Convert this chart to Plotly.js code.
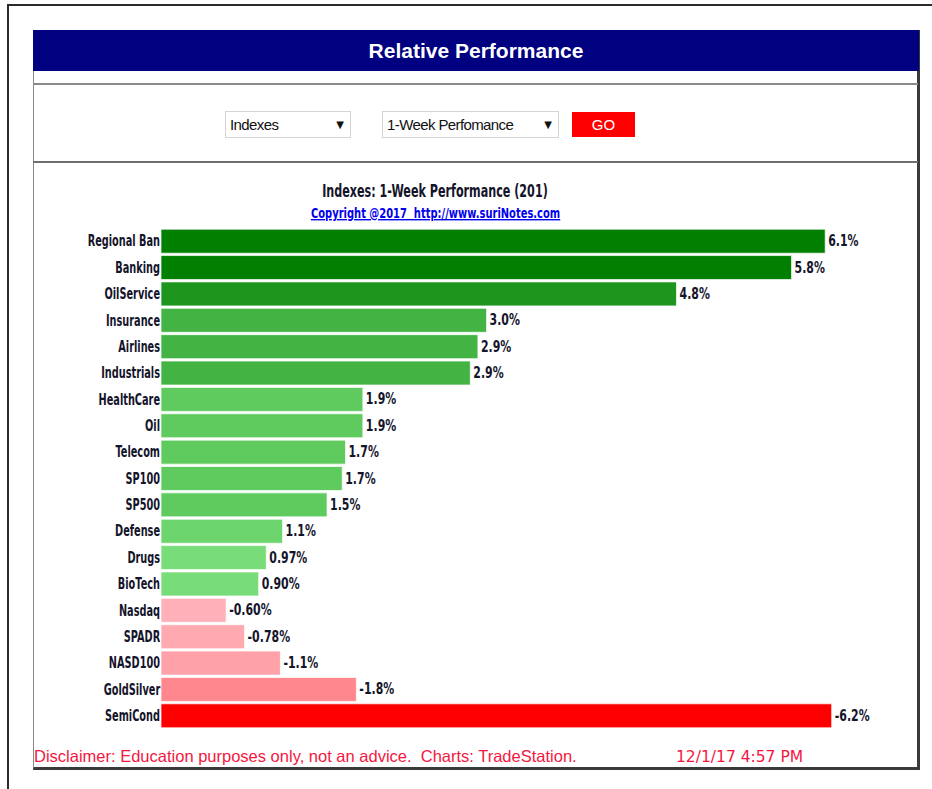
<!DOCTYPE html>
<html>
<head>
<meta charset="utf-8">
<script src="https://cdn.plot.ly/plotly-3.0.1.min.js"></script>
<style>
  html, body { margin: 0; padding: 0; background: #ffffff; width: 932px; height: 789px; overflow: hidden; }
  .abs { position: absolute; box-sizing: border-box; }
  #frameTop { left: 7px; top: 4px; width: 925px; height: 2px; background: #2b2b2b; }
  #frameLeft { left: 7px; top: 4px; width: 2px; height: 785px; background: #2b2b2b; }
  #box { left: 33px; top: 30px; width: 887px; height: 740px; border-left: 1px solid #888; border-right: 3px solid #3a3a3a; border-bottom: 3px solid #3a3a3a; }
  #header { left: 33px; top: 30px; width: 886px; height: 41px; background: #000080; color: #fff;
            font-family: "Liberation Sans", Arial, sans-serif; font-weight: bold; font-size: 21px;
            text-align: center; line-height: 41px; }
  #sep1 { left: 33px; top: 83px; width: 885px; height: 2px; background: #8a8a8a; }
  #sep2 { left: 33px; top: 161px; width: 885px; height: 2px; background: #6e6e6e; }
  .dd { border: 1px solid #d4d4d4; height: 27px; background: #fff; font-family: "Liberation Sans", Arial, sans-serif;
        font-size: 15px; color: #111; line-height: 26px; padding-left: 4px; letter-spacing: -0.6px; }
  .dd .arr { position: absolute; right: 6px; top: 0; font-size: 10px; font-family: "DejaVu Sans", sans-serif; letter-spacing: 0; }
  #dd1 { left: 225px; top: 111px; width: 126px; }
  #dd2 { left: 382px; top: 111px; width: 177px; }
  #go { left: 572px; top: 112px; width: 63px; height: 25px; background: #ff0000; color: #fff; text-align: center;
        font-family: "Liberation Sans", Arial, sans-serif; font-size: 15px; line-height: 25px; }
  #chart { left: 33px; top: 164px; width: 885px; height: 590px; }
  #disc { left: 34px; top: 747px; color: #f5163f; font-family: "Liberation Sans", Arial, sans-serif; font-size: 16.5px; white-space: pre; }
  #date { left: 676px; top: 748px; color: #f5163f; font-family: "DejaVu Sans", Verdana, sans-serif; font-size: 15.5px; white-space: pre; }
</style>
</head>
<body>
<div class="abs" id="frameTop"></div>
<div class="abs" id="frameLeft"></div>
<div class="abs" id="box"></div>
<div class="abs" id="header">Relative Performance</div>
<div class="abs" id="sep1"></div>
<div class="abs" id="sep2"></div>
<div class="abs dd" id="dd1">Indexes<span class="arr">▼</span></div>
<div class="abs dd" id="dd2">1-Week Perfomance<span class="arr">▼</span></div>
<div class="abs" id="go">GO</div>
<div class="abs" id="chart"></div>
<div class="abs" id="disc">Disclaimer: Education purposes only, not an advice.  Charts: TradeStation.</div>
<div class="abs" id="date">12/1/17 4:57 PM</div>
<script>
// ---- data ----
var categories = ["Regional Ban", "Banking", "OilService", "Insurance", "Airlines", "Industrials",
  "HealthCare", "Oil", "Telecom", "SP100", "SP500", "Defense", "Drugs", "BioTech",
  "Nasdaq", "SPADR", "NASD100", "GoldSilver", "SemiCond"];
var performance = [6.12, 5.81, 4.75, 3.00, 2.92, 2.85, 1.86, 1.86, 1.70, 1.67, 1.53, 1.12, 0.97, 0.90,
  -0.60, -0.77, -1.10, -1.80, -6.18];
var valueLabels = ["6.1%", "5.8%", "4.8%", "3.0%", "2.9%", "2.9%", "1.9%", "1.9%", "1.7%", "1.7%", "1.5%",
  "1.1%", "0.97%", "0.90%", "-0.60%", "-0.78%", "-1.1%", "-1.8%", "-6.2%"];
var barColors = ["#007f00", "#007f00", "#1e961e", "#43b443", "#43b443", "#43b443",
  "#5fcb5f", "#5fcb5f", "#5fcb5f", "#5fcb5f", "#5fcb5f", "#6dd56d", "#78dc78", "#78dc78",
  "#ffb0b9", "#ffa9b1", "#ffa1a9", "#ff878d", "#ff0000"];

var narrow = '"DejaVu Sans", sans-serif';

var trace = {
  type: 'bar',
  orientation: 'h',
  y: categories,
  x: performance.map(function (v) { return Math.abs(v); }),
  text: valueLabels,
  textposition: 'outside',
  cliponaxis: false,
  textfont: { family: narrow, size: 15, color: '#14142a', weight: 'bold' },
  marker: { color: barColors, line: { color: 'rgba(255,255,255,0.7)', width: 1 } },
  hoverinfo: 'none'
};

var layout = {
  width: 885, height: 590,
  margin: { l: 128, r: 19, t: 64, b: 25 },
  paper_bgcolor: 'rgba(0,0,0,0)',
  plot_bgcolor: 'rgba(0,0,0,0)',
  bargap: 0.09,
  showlegend: false,
  xaxis: { range: [0, 6.8], visible: false, fixedrange: true },
  yaxis: {
    autorange: 'reversed', showgrid: false, zeroline: false, showline: false, ticks: '',
    tickfont: { family: narrow, size: 15, color: '#14142a', weight: 'bold' },
    fixedrange: true
  },
  annotations: [
    { xref: 'paper', yref: 'paper', x: 0.3713, y: 1, yanchor: 'bottom', yshift: 25, showarrow: false,
      text: '<b>Indexes: 1-Week Performance (201)</b>',
      font: { family: narrow, size: 18, color: '#14142a' } },
    { xref: 'paper', yref: 'paper', x: 0.3713, y: 1, yanchor: 'bottom', yshift: 5, showarrow: false,
      text: '<b><u>Copyright @2017  http://www.suriNotes.com</u></b>',
      font: { family: narrow, size: 14, color: '#0000ee' } }
  ]
};

// condense text horizontally (no narrow font is installed), keeping one edge fixed
function squeeze(node, factor, keep, shift) {
  var b0 = node.getBBox();
  var len = node.getComputedTextLength();
  node.setAttribute('textLength', (len * factor).toFixed(2));
  node.setAttribute('lengthAdjust', 'spacingAndGlyphs');
  var b1 = node.getBBox();
  var dx;
  if (keep === 'left') dx = b0.x - b1.x;
  else if (keep === 'right') dx = (b0.x + b0.width) - (b1.x + b1.width);
  else dx = (b0.x + b0.width / 2) - (b1.x + b1.width / 2);
  var x = parseFloat(node.getAttribute('x') || '0');
  node.setAttribute('x', (x + dx + (shift || 0)).toFixed(2));
}

Plotly.newPlot('chart', [trace], layout, { displayModeBar: false, staticPlot: true }).then(function (gd) {
  gd.querySelectorAll('.ytick text').forEach(function (n) { squeeze(n, 0.65, 'right', 0); });
  gd.querySelectorAll('text.bartext').forEach(function (n) { squeeze(n, 0.73, 'left', 0); });
  var ann = gd.querySelectorAll('.annotation-text');
  if (ann[0]) squeeze(ann[0], 0.62, 'center', 0);
  if (ann[1]) squeeze(ann[1], 0.71, 'center', 0);
});
</script>
</body>
</html>
